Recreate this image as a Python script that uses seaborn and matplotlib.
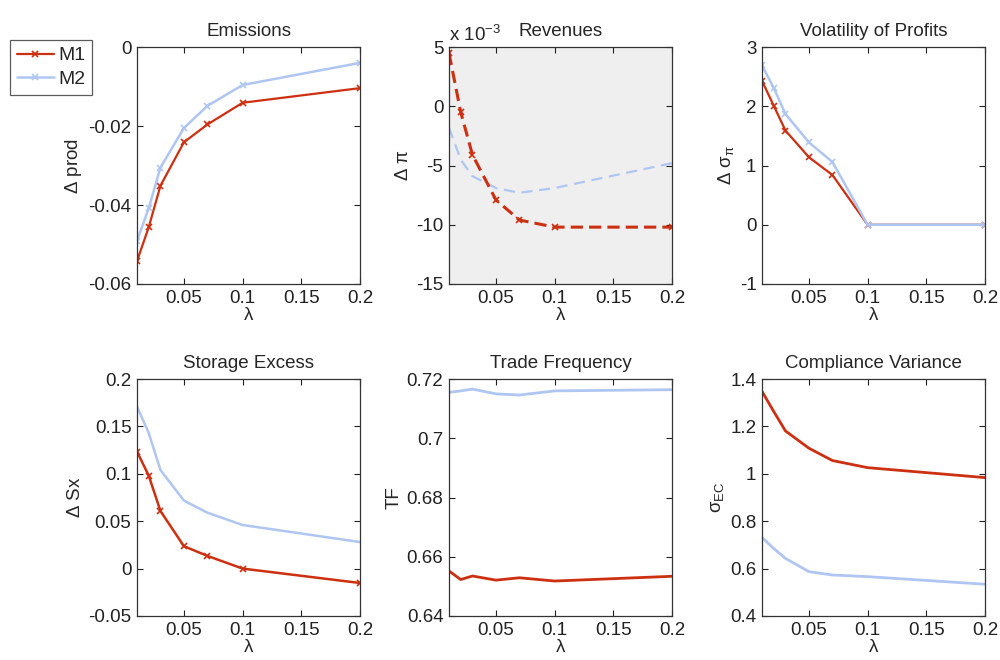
import numpy as np
import pandas as pd
import matplotlib
matplotlib.use('Agg')
import matplotlib.pyplot as plt
from matplotlib.ticker import FuncFormatter
import seaborn as sns

# lambda grid shared by all panels
lam = [0.01, 0.02, 0.03, 0.05, 0.07, 0.1, 0.2]

# Emissions (delta prod)
emis_m1 = [-0.0542, -0.0456, -0.0351, -0.0241, -0.0196, -0.0141, -0.0104]
emis_m2 = [-0.0491, -0.0408, -0.0305, -0.0205, -0.0149, -0.0096, -0.0040]

# Revenues (delta pi)
rev_m1 = [4.5e-3, -0.5e-3, -4.1e-3, -7.9e-3, -9.6e-3, -10.2e-3, -10.2e-3]
rev_m2 = [-1.8e-3, -4.5e-3, -5.9e-3, -6.9e-3, -7.3e-3, -6.9e-3, -4.8e-3]

# Volatility of profits (delta sigma_pi)
vol_m1 = [2.43, 2.01, 1.59, 1.14, 0.84, 0.0, 0.0]
vol_m2 = [2.69, 2.31, 1.87, 1.39, 1.06, 0.0, 0.0]

# Storage excess (delta Sx)
sx_m1 = [0.1235, 0.098, 0.0607, 0.0236, 0.0134, 0.0, -0.0152]
sx_m2 = [0.171, 0.143, 0.104, 0.0717, 0.059, 0.046, 0.028]

# Trade frequency
tf_m1 = [0.6552, 0.6523, 0.6535, 0.6521, 0.6529, 0.6518, 0.6534]
tf_m2 = [0.7155, 0.7160, 0.7166, 0.7150, 0.7146, 0.7160, 0.7164]

# Compliance variance
cv_m1 = [1.348, 1.263, 1.181, 1.108, 1.056, 1.026, 0.984]
cv_m2 = [0.731, 0.685, 0.643, 0.587, 0.573, 0.566, 0.534]

titles = ['Emissions', 'Revenues', 'Volatility of Profits',
          'Storage Excess', 'Trade Frequency', 'Compliance Variance']
ylabels = [r'$\Delta$ prod', r'$\Delta$ $\pi$', r'$\Delta$ $\sigma_\pi$',
           r'$\Delta$ Sx', 'TF', r'$\sigma_{EC}$']
ylims = [(-0.06, 0), (-15e-3, 5e-3), (-1, 3), (-0.05, 0.2), (0.64, 0.72), (0.4, 1.4)]
yticks = [[-0.06, -0.04, -0.02, 0],
          [-15e-3, -10e-3, -5e-3, 0, 5e-3],
          [-1, 0, 1, 2, 3],
          [-0.05, 0, 0.05, 0.1, 0.15, 0.2],
          [0.64, 0.66, 0.68, 0.7, 0.72],
          [0.4, 0.6, 0.8, 1, 1.2, 1.4]]

RED = '#cc3010'
BLUE = '#afc6f2'
FS = 13.5

sns.set_style('white')
plt.rcParams['font.family'] = ['Liberation Sans', 'DejaVu Sans']
plt.rcParams['mathtext.fontset'] = 'custom'
plt.rcParams['mathtext.rm'] = 'Liberation Sans'
plt.rcParams['mathtext.it'] = 'Liberation Sans'

fig = plt.figure(figsize=(10, 6.6), dpi=100)
lefts = [0.137, 0.449, 0.762]
bottoms = [0.5697, 0.0667]
axes = []
for r in range(2):
    for c in range(3):
        axes.append(fig.add_axes([lefts[c], bottoms[r], 0.223, 0.359]))

def fmt(v, pos):
    return '%g' % v

series = [(emis_m1, emis_m2), (rev_m1, rev_m2), (vol_m1, vol_m2),
          (sx_m1, sx_m2), (tf_m1, tf_m2), (cv_m1, cv_m2)]

for i, ax in enumerate(axes):
    m1, m2 = series[i]
    if i == 1:
        ax.set_facecolor('#efefef')
        sns.lineplot(x=lam, y=m2, ax=ax, color=BLUE, lw=1.6, linestyle=(0, (5, 3)))
        sns.lineplot(x=lam, y=m1, ax=ax, color=RED, lw=2.2, linestyle=(0, (4, 2)),
                     marker='x', markersize=5, markeredgewidth=1.2, markeredgecolor=RED)
    elif i in (0, 2):
        sns.lineplot(x=lam, y=m1, ax=ax, color=RED, lw=1.6, marker='x',
                     markersize=5, markeredgewidth=1.2, markeredgecolor=RED,
                     label='M1' if i == 0 else None)
        sns.lineplot(x=lam, y=m2, ax=ax, color=BLUE, lw=1.8, marker='x',
                     markersize=5, markeredgewidth=1.2, markeredgecolor=BLUE,
                     label='M2' if i == 0 else None)
    elif i == 3:
        sns.lineplot(x=lam, y=m1, ax=ax, color=RED, lw=1.8, marker='x',
                     markersize=5, markeredgewidth=1.2, markeredgecolor=RED)
        sns.lineplot(x=lam, y=m2, ax=ax, color=BLUE, lw=1.8)
    else:
        sns.lineplot(x=lam, y=m1, ax=ax, color=RED, lw=2.0)
        sns.lineplot(x=lam, y=m2, ax=ax, color=BLUE, lw=2.0)

    ax.set_xlim(0.01, 0.2)
    ax.set_xticks([0.05, 0.1, 0.15, 0.2])
    ax.set_ylim(*ylims[i])
    ax.set_yticks(yticks[i])
    if i == 1:
        ax.yaxis.set_major_formatter(FuncFormatter(lambda v, p: '%g' % round(v * 1e3, 6)))
        ax.text(0.0, 1.01, 'x 10$^{-3}$', transform=ax.transAxes, fontsize=FS,
                ha='left', va='bottom')
    else:
        ax.yaxis.set_major_formatter(FuncFormatter(fmt))
    ax.xaxis.set_major_formatter(FuncFormatter(fmt))
    ax.set_title(titles[i], fontsize=FS, pad=8)
    ax.set_xlabel(r'$\lambda$', fontsize=FS, labelpad=0)
    ax.set_ylabel(ylabels[i], fontsize=FS, labelpad=3)
    ax.tick_params(direction='in', length=4, width=0.8, labelsize=FS, colors='#222222',
                   top=True, right=True, bottom=True, left=True, pad=4)
    for sp in ax.spines.values():
        sp.set_color('#333333')
        sp.set_linewidth(0.9)

leg = axes[0].legend(loc='upper left', bbox_to_anchor=(-0.57, 1.03), borderaxespad=0,
                     fontsize=FS + 0.5, frameon=True, fancybox=False, edgecolor='#333333',
                     handlelength=1.9, borderpad=0.35, labelspacing=0.3, handletextpad=0.25)
leg.get_frame().set_linewidth(0.9)

fig.savefig('out.png', dpi=100)
